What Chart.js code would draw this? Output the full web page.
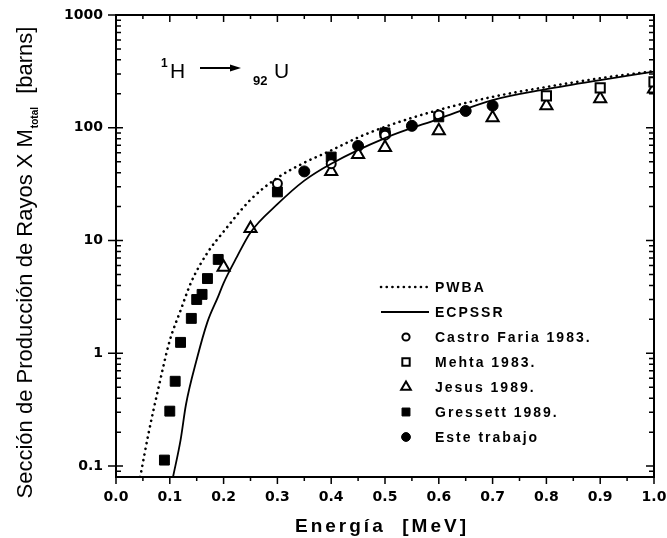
<!DOCTYPE html>
<html>
<head>
<meta charset="utf-8">
<script src="https://cdn.jsdelivr.net/npm/chart.js@4.4.1/dist/chart.umd.min.js"></script>
<style>
  html, body { margin: 0; padding: 0; background: #fff; }
</style>
</head>
<body>
<canvas id="chart" width="667" height="538"></canvas>
<script>
// Energía [MeV] and sección [barns]
const pwbaE = [0.045, 0.06, 0.08, 0.1, 0.12, 0.14, 0.17, 0.2, 0.25, 0.3, 0.35, 0.4, 0.45, 0.5, 0.6, 0.7, 0.8, 0.9, 1.0];
const pwbaS = [0.08, 0.19, 0.52, 1.3, 2.4, 4.3, 7.8, 12, 23, 36, 49, 63, 82, 102, 144, 188, 230, 275, 318];

const ecpssrE = [0.106, 0.12, 0.13, 0.15, 0.17, 0.19, 0.2, 0.225, 0.25, 0.3, 0.35, 0.4, 0.5, 0.6, 0.7, 0.8, 0.9, 1.0];
const ecpssrS = [0.08, 0.17, 0.35, 0.88, 1.9, 3.2, 4.2, 7.2, 11.8, 21, 34, 48, 81, 120, 176, 220, 265, 315];

const castroE = [0.3, 0.4, 0.5, 0.6];
const castroS = [32, 48, 86, 130];

const mehtaE = [0.8, 0.9, 1.0];
const mehtaS = [192, 226, 255];

const jesusE = [0.2, 0.25, 0.4, 0.45, 0.5, 0.6, 0.7, 0.8, 0.9, 1.0];
const jesusS = [5.8, 12.8, 41, 58, 67, 94, 123, 157, 181, 221];

const gressettE = [0.09, 0.1, 0.11, 0.12, 0.14, 0.15, 0.16, 0.17, 0.19, 0.3, 0.4, 0.5, 0.6];
const gressettS = [0.113, 0.307, 0.565, 1.25, 2.04, 3.0, 3.33, 4.6, 6.8, 27, 55, 90, 125];

const esteE = [0.35, 0.45, 0.5, 0.55, 0.65, 0.7];
const esteS = [41, 69, 90, 104, 141, 157];

const xTickValues = [0, 0.1, 0.2, 0.3, 0.4, 0.5, 0.6, 0.7, 0.8, 0.9, 1.0];
const xTickText = ['0.0', '0.1', '0.2', '0.3', '0.4', '0.5', '0.6', '0.7', '0.8', '0.9', '1.0'];
const yTickValues = [0.1, 1, 10, 100, 1000];
const yTickText = ['0.1', '1', '10', '100', '1000'];

function pts(xs, ys) {
  return xs.map((x, i) => ({ x: x, y: ys[i] }));
}

function markerSet(label, xs, ys, style, filled, radius) {
  return {
    label: label,
    data: pts(xs, ys),
    showLine: false,
    pointStyle: style,
    pointRadius: radius,
    pointBorderWidth: filled ? 1 : 2,
    pointBorderColor: '#000',
    pointBackgroundColor: filled ? '#000' : '#fff',
    legendRadius: radius * 0.8
  };
}

const datasets = [
  {
    label: 'PWBA',
    data: pts(pwbaE, pwbaS),
    showLine: true,
    borderColor: '#000',
    borderWidth: 2.6,
    borderDash: [0.1, 5.6],
    borderCapStyle: 'round',
    pointRadius: 0,
    cubicInterpolationMode: 'monotone'
  },
  {
    label: 'ECPSSR',
    data: pts(ecpssrE, ecpssrS),
    showLine: true,
    borderColor: '#000',
    borderWidth: 1.8,
    pointRadius: 0,
    cubicInterpolationMode: 'monotone'
  },
  markerSet('Castro Faria 1983.', castroE, castroS, 'circle', false, 4.5),
  markerSet('Mehta 1983.', mehtaE, mehtaS, 'rect', false, 6.5),
  markerSet('Jesus 1989.', jesusE, jesusS, 'triangle', false, 7),
  markerSet('Gressett 1989.', gressettE, gressettS, 'rect', true, 7),
  markerSet('Este trabajo', esteE, esteS, 'circle', true, 5.5)
];

// frame, ticks, titles, legend and reaction label
const decor = {
  id: 'decor',
  afterDraw(chart) {
    const { ctx, chartArea: a, scales: { x, y } } = chart;
    ctx.save();
    ctx.strokeStyle = '#000';
    ctx.fillStyle = '#000';

    ctx.lineWidth = 2;
    ctx.strokeRect(a.left, a.top, a.right - a.left, a.bottom - a.top);

    ctx.lineWidth = 1.5;
    ctx.beginPath();
    for (let i = 0; i <= 20; i++) {
      const px = x.getPixelForValue(i * 0.05);
      const len = i % 2 ? 4 : 7;
      ctx.moveTo(px, a.top); ctx.lineTo(px, a.top + len);
      ctx.moveTo(px, a.bottom); ctx.lineTo(px, a.bottom + len);
    }
    for (let e = -2; e <= 3; e++) {
      for (let m = 1; m <= 9; m++) {
        const v = m * Math.pow(10, e);
        if (v < y.min || v > y.max) continue;
        const py = y.getPixelForValue(v);
        if (m === 1) {
          ctx.moveTo(a.left - 8, py); ctx.lineTo(a.left + 7, py);
          ctx.moveTo(a.right - 8, py); ctx.lineTo(a.right, py);
        } else {
          ctx.moveTo(a.left, py); ctx.lineTo(a.left + 5, py);
          ctx.moveTo(a.right - 5, py); ctx.lineTo(a.right, py);
        }
      }
    }
    ctx.stroke();

    // x title
    ctx.font = 'bold 19px "Liberation Sans", Arial, sans-serif';
    ctx.letterSpacing = '3px';
    ctx.textAlign = 'center';
    ctx.textBaseline = 'alphabetic';
    ctx.fillText('Energía  [MeV]', 382, 532);

    // y title with subscript
    ctx.letterSpacing = '0px';
    ctx.textAlign = 'left';
    const mainFont = '22px "Liberation Sans", Arial, sans-serif';
    const subFont = 'bold 10px "Liberation Sans", Arial, sans-serif';
    const part1 = 'Sección de Producción de Rayos X M';
    const part2 = 'total';
    const part3 = '  [barns]';
    ctx.font = mainFont;
    const w1 = ctx.measureText(part1).width;
    const w3 = ctx.measureText(part3).width;
    ctx.font = subFont;
    const w2 = ctx.measureText(part2).width + 1;
    const total = w1 + w2 + w3;
    ctx.save();
    ctx.translate(32, 263);
    ctx.rotate(-Math.PI / 2);
    let u = -total / 2;
    ctx.font = mainFont; ctx.fillText(part1, u, 0); u += w1 + 1;
    ctx.font = subFont; ctx.fillText(part2, u, 6); u += w2;
    ctx.font = mainFont; ctx.fillText(part3, u, 0);
    ctx.restore();

    // reaction label: 1H -> 92U
    ctx.font = 'bold 12px "Liberation Sans", Arial, sans-serif';
    ctx.fillText('1', 161, 67);
    ctx.font = '21px "Liberation Sans", Arial, sans-serif';
    ctx.fillText('H', 170, 78);
    ctx.lineWidth = 2;
    ctx.beginPath();
    ctx.moveTo(200, 68); ctx.lineTo(232, 68);
    ctx.stroke();
    ctx.beginPath();
    ctx.moveTo(241, 68); ctx.lineTo(230, 64.5); ctx.lineTo(230, 71.5);
    ctx.closePath(); ctx.fill();
    ctx.font = 'bold 13px "Liberation Sans", Arial, sans-serif';
    ctx.fillText('92', 253, 85);
    ctx.font = '21px "Liberation Sans", Arial, sans-serif';
    ctx.fillText('U', 274, 78);

    // legend
    const rowY = [287, 312, 337, 362, 387, 412, 437];
    ctx.font = 'bold 14px "Liberation Sans", Arial, sans-serif';
    ctx.letterSpacing = '2px';
    ctx.textBaseline = 'middle';
    chart.data.datasets.forEach((ds, i) => {
      const yy = rowY[i];
      if (ds.showLine) {
        ctx.save();
        ctx.strokeStyle = ds.borderColor;
        ctx.lineWidth = ds.borderWidth;
        ctx.setLineDash(ds.borderDash || []);
        ctx.lineCap = ds.borderCapStyle || 'butt';
        ctx.beginPath();
        ctx.moveTo(381, yy); ctx.lineTo(429, yy);
        ctx.stroke();
        ctx.restore();
      } else {
        ctx.save();
        ctx.fillStyle = ds.pointBackgroundColor;
        ctx.strokeStyle = ds.pointBorderColor;
        ctx.lineWidth = ds.pointBorderWidth;
        Chart.helpers.drawPoint(ctx, {
          pointStyle: ds.pointStyle,
          radius: ds.legendRadius,
          borderWidth: ds.pointBorderWidth,
          rotation: 0
        }, 406, yy);
        ctx.restore();
      }
      ctx.fillStyle = '#000';
      ctx.fillText(ds.label, 435, yy + 1);
    });
    ctx.restore();
  }
};

new Chart(document.getElementById('chart'), {
  type: 'scatter',
  data: { datasets: datasets },
  options: {
    responsive: false,
    animation: false,
    events: [],
    layout: { padding: { left: 0, top: 15, right: 13, bottom: 0 } },
    plugins: {
      legend: { display: false },
      tooltip: { enabled: false }
    },
    scales: {
      x: {
        type: 'linear',
        min: 0,
        max: 1,
        afterBuildTicks: s => { s.ticks = xTickValues.map(v => ({ value: v })); },
        afterFit: s => { s.height = 61; s.paddingLeft = 0; s.paddingRight = 0; },
        grid: { display: false, drawTicks: false },
        border: { display: false },
        ticks: {
          autoSkip: false,
          maxRotation: 0,
          padding: 12,
          color: '#000',
          font: { family: '"DejaVu Sans", sans-serif', weight: 'bold', size: 14 },
          callback: (v, i) => xTickText[i]
        }
      },
      y: {
        type: 'logarithmic',
        min: 0.08,
        max: 1000,
        afterBuildTicks: s => { s.ticks = yTickValues.map(v => ({ value: v })); },
        afterFit: s => { s.width = 116; s.paddingTop = 0; s.paddingBottom = 0; },
        grid: { display: false, drawTicks: false },
        border: { display: false },
        ticks: {
          autoSkip: false,
          padding: 13,
          color: '#000',
          font: { family: '"DejaVu Sans", sans-serif', weight: 'bold', size: 14 },
          callback: (v, i) => yTickText[i]
        }
      }
    }
  },
  plugins: [decor]
});
</script>
</body>
</html>
